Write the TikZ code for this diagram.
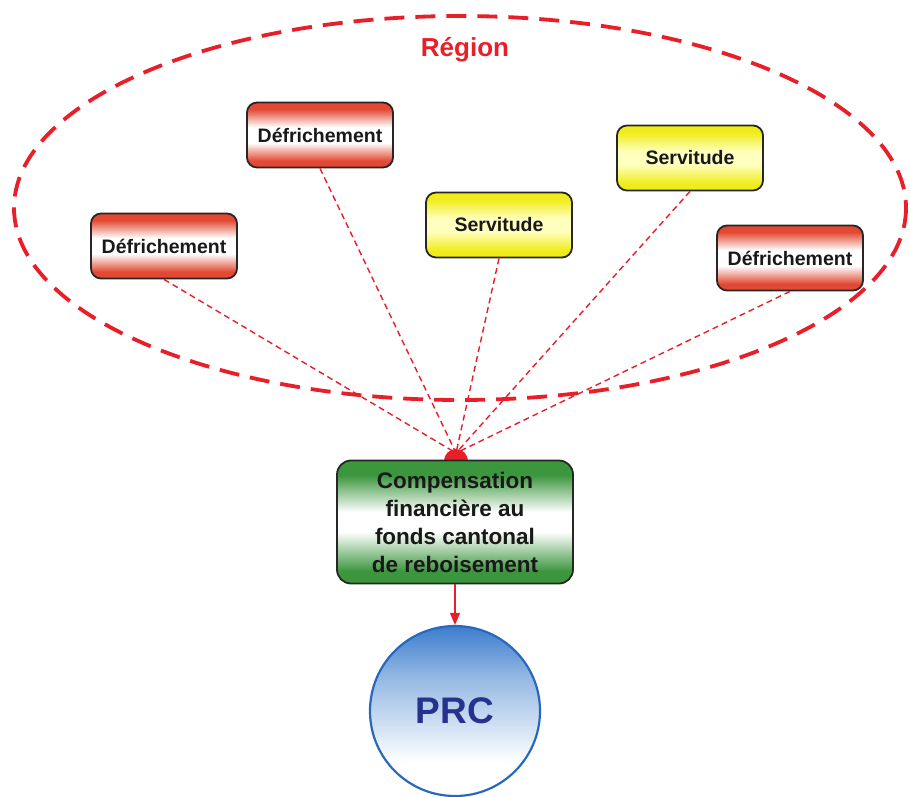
\documentclass[tikz,border=0pt]{standalone}
\usepackage{fontspec}
\setmainfont{Liberation Sans}
\usetikzlibrary{arrows.meta}
\definecolor{dred}{RGB}{226,72,50}
\definecolor{lred}{RGB}{232,30,40}
\definecolor{dgreen}{RGB}{60,150,62}
\definecolor{dyel}{RGB}{240,236,25}
\definecolor{lyel}{RGB}{255,255,190}
\definecolor{cblue}{RGB}{60,125,205}
\definecolor{bblue}{RGB}{40,105,190}
\definecolor{tblue}{RGB}{38,50,140}
\pgfdeclareverticalshading{redsh}{100bp}{color(0bp)=(dred); color(25bp)=(dred); color(30bp)=(dred); color(44bp)=(white); color(56bp)=(white); color(70bp)=(dred); color(75bp)=(dred); color(100bp)=(dred)}
\pgfdeclareverticalshading{yelsh}{100bp}{color(0bp)=(dyel); color(25bp)=(dyel); color(30bp)=(dyel); color(45bp)=(lyel); color(55bp)=(lyel); color(70bp)=(dyel); color(75bp)=(dyel); color(100bp)=(dyel)}
\pgfdeclareverticalshading{greensh}{100bp}{color(0bp)=(dgreen); color(25bp)=(dgreen); color(30bp)=(dgreen); color(46bp)=(white); color(54bp)=(white); color(69bp)=(dgreen); color(75bp)=(dgreen); color(100bp)=(dgreen)}
\pgfdeclareverticalshading{bluesh}{100bp}{color(0bp)=(white); color(25bp)=(white); color(35bp)=(white); color(60bp)=(cblue!55); color(75bp)=(cblue); color(100bp)=(cblue)}
\tikzset{
  box/.style={draw=black!85, line width=1.8pt, rounded corners=10pt,
    minimum width=146pt, minimum height=65pt, inner sep=0pt,
    font=\fontsize{19.5}{22}\selectfont\bfseries, text=black!90},
  redbox/.style={box, shading=redsh},
  yelbox/.style={box, shading=yelsh},
  link/.style={draw=lred, line width=1.4pt, dash pattern=on 6pt off 4pt},
}
\begin{document}
\begin{tikzpicture}[x=1pt,y=-1pt]
\useasboundingbox (0,0) rectangle (911,796);
\fill[white] (0,0) rectangle (911,796);
% region ellipse
\draw[lred, line width=3.8pt, dash pattern=on 20pt off 11pt] (460,208) ellipse [x radius=446, y radius=192];
\node[text=lred, font=\fontsize{26}{30}\selectfont\bfseries] (reg) at (465,50) {Région};
% boxes
\node[redbox] (d1) at (164,246) {Défrichement};
\node[redbox] (d2) at (320,135) {Défrichement};
\node[yelbox] (s1) at (499,225) {Servitude};
\node[yelbox] (s2) at (690,158) {Servitude};
\node[redbox] (d3) at (790,258) {Défrichement};
% hub
\coordinate (hub) at (456,453);
\fill[lred] (444,461) arc[start angle=180, end angle=360, radius=12] -- cycle;
\foreach \n in {d1,d2,s1,s2,d3} \draw[link] (\n.south) -- (hub);
% green box
\node[draw=black!85, line width=1.8pt, rounded corners=14pt, shading=greensh,
  minimum width=236pt, minimum height=123pt, inner sep=0pt, align=center,
  font=\fontsize{22.5}{28}\selectfont\bfseries, text=black!90]
  (comp) at (455,522) {Compensation\\financière au\\fonds cantonal\\de reboisement};
% PRC circle
\node[circle, draw=bblue, line width=2.2pt, shading=bluesh,
  minimum size=170pt, inner sep=0pt, text=tblue,
  font=\fontsize{37}{40}\selectfont\bfseries] (prc) at (455,711) {PRC};
\draw[lred, line width=1.4pt, -{Triangle[length=12pt,width=10pt]}] (comp.south) -- (prc.north);
\end{tikzpicture}
\end{document}
